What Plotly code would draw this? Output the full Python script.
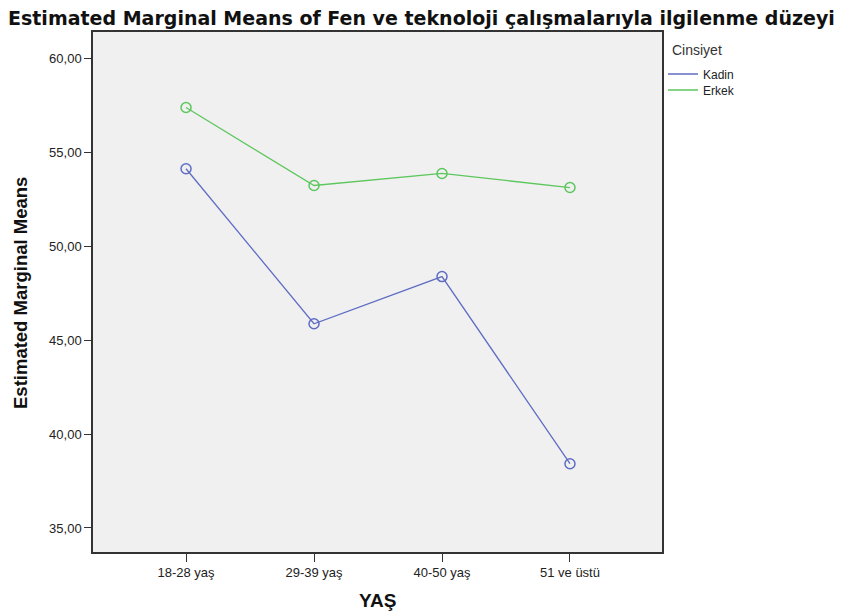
import plotly.graph_objects as go

categories = ["18-28 yaş", "29-39 yaş", "40-50 yaş", "51 ve üstü"]
kadin = [54.12, 45.87, 48.38, 38.42]
erkek = [57.38, 53.23, 53.87, 53.12]
y_ticks = [35, 40, 45, 50, 55, 60]
y_tick_labels = ["35,00", "40,00", "45,00", "50,00", "55,00", "60,00"]

x_idx = list(range(len(categories)))
BLUE = "#5F6DC4"
GREEN = "#5DC65D"

# page has an 8px body margin; figure is sized so it fits the 855x616 window
W, H = 847, 608
L, R, T, B = 85, 193, 24, 64
ph = H - T - B
pw = W - L - R


def py(fig_y):
    """paper y from figure pixel y (from top)"""
    return 1 - (fig_y - T) / ph


fig = go.Figure()
for name, vals, col in [("Kadin", kadin, BLUE), ("Erkek", erkek, GREEN)]:
    fig.add_trace(go.Scatter(
        x=x_idx, y=vals, mode="lines+markers", name=name, showlegend=False,
        line=dict(color=col, width=1.3),
        marker=dict(symbol="circle-open", size=10, color=col, line=dict(width=1.5)),
    ))
fig.add_trace(go.Scatter(x=[None], y=[None], mode="lines", name="Kadin",
                         line=dict(color=BLUE, width=1.3), legend="legend"))
fig.add_trace(go.Scatter(x=[None], y=[None], mode="lines", name="Erkek",
                         line=dict(color=GREEN, width=1.3), legend="legend2"))

leg_common = dict(x=1 + 1 / pw, xanchor="left", yanchor="middle",
                  font=dict(size=12, color="#222"), bgcolor="rgba(0,0,0,0)",
                  itemwidth=30, tracegroupgap=0)

fig.update_layout(
    width=W, height=H,
    paper_bgcolor="white", plot_bgcolor="#F0F0F0",
    margin=dict(l=L, r=R, t=T, b=B, autoexpand=False),
    font=dict(family="Liberation Sans, Arial, sans-serif", size=13, color="#222"),
    title=dict(text="<b>Estimated Marginal Means of Fen ve teknoloji çalışmalarıyla ilgilenme düzeyi</b>",
               x=0.0, xanchor="left", y=1 - 10 / H, yanchor="middle",
               font=dict(family="DejaVu Sans, sans-serif", size=19, color="#111")),
    showlegend=True,
    legend=dict(y=py(66), **leg_common),
    legend2=dict(y=py(82), **leg_common),
    annotations=[
        dict(text="Cinsiyet", x=1 + 8 / pw, xanchor="left", y=py(42), yanchor="middle",
             xref="paper", yref="paper", showarrow=False,
             font=dict(size=14, color="#333")),
        dict(text="<b>YAŞ</b>", x=0.5, xanchor="center", y=py(592), yanchor="middle",
             xref="paper", yref="paper", showarrow=False,
             font=dict(size=19, color="#111")),
        dict(text="<b>Estimated Marginal Means</b>", textangle=-90,
             x=-(L - 12) / pw, xanchor="center", y=py(285), yanchor="middle",
             xref="paper", yref="paper", showarrow=False,
             font=dict(size=18.5, color="#111")),
    ],
    xaxis=dict(
        tickmode="array", tickvals=x_idx, ticktext=categories,
        range=[-0.727, 3.719], showgrid=False, zeroline=False, automargin=False,
        ticks="outside", ticklen=8, tickcolor="#333", tickwidth=1,
        showline=True, linecolor="#333", linewidth=1.5, mirror=True,
        tickfont=dict(size=13, color="#222"),
    ),
    yaxis=dict(
        tickmode="array", tickvals=y_ticks, ticktext=y_tick_labels,
        range=[33.72, 61.40], showgrid=False, zeroline=False, automargin=False,
        ticks="outside", ticklen=7, tickcolor="#333", tickwidth=1,
        showline=True, linecolor="#333", linewidth=1.5, mirror=True,
        tickfont=dict(size=13, color="#222"),
    ),
)

fig.write_html("out.html")
